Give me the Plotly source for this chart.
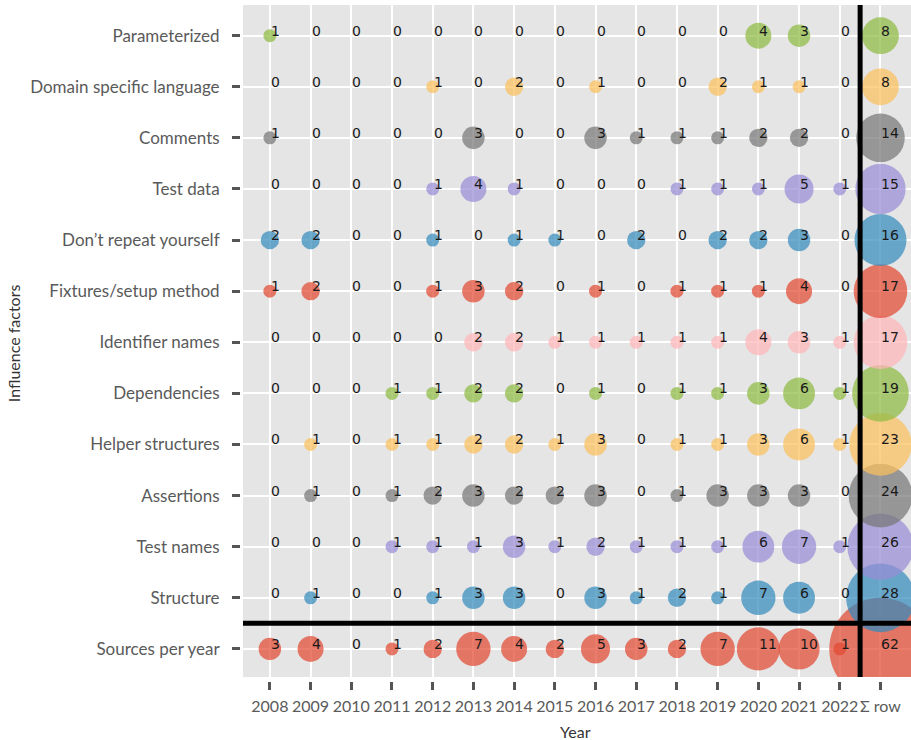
import numpy as np
import plotly.graph_objects as go

# Column and row categories
years = [str(y) for y in range(2008, 2023)]
columns = years + ["Σ row"]

factors = [
    "Sources per year",
    "Structure",
    "Test names",
    "Assertions",
    "Helper structures",
    "Dependencies",
    "Identifier names",
    "Fixtures/setup method",
    "Don’t repeat yourself",
    "Test data",
    "Comments",
    "Domain specific language",
    "Parameterized",
]

# Counts per year (2008..2022) for each factor
sources_per_year = [3, 4, 0, 1, 2, 7, 4, 2, 5, 3, 2, 7, 11, 10, 1]
structure = [0, 1, 0, 0, 1, 3, 3, 0, 3, 1, 2, 1, 7, 6, 0]
test_names = [0, 0, 0, 1, 1, 1, 3, 1, 2, 1, 1, 1, 6, 7, 1]
assertions = [0, 1, 0, 1, 2, 3, 2, 2, 3, 0, 1, 3, 3, 3, 0]
helper_structures = [0, 1, 0, 1, 1, 2, 2, 1, 3, 0, 1, 1, 3, 6, 1]
dependencies = [0, 0, 0, 1, 1, 2, 2, 0, 1, 0, 1, 1, 3, 6, 1]
identifier_names = [0, 0, 0, 0, 0, 2, 2, 1, 1, 1, 1, 1, 4, 3, 1]
fixtures = [1, 2, 0, 0, 1, 3, 2, 0, 1, 0, 1, 1, 1, 4, 0]
dont_repeat = [2, 2, 0, 0, 1, 0, 1, 1, 0, 2, 0, 2, 2, 3, 0]
test_data = [0, 0, 0, 0, 1, 4, 1, 0, 0, 0, 1, 1, 1, 5, 1]
comments = [1, 0, 0, 0, 0, 3, 0, 0, 3, 1, 1, 1, 2, 2, 0]
domain_specific = [0, 0, 0, 0, 1, 0, 2, 0, 1, 0, 0, 2, 1, 1, 0]
parameterized = [1, 0, 0, 0, 0, 0, 0, 0, 0, 0, 0, 0, 4, 3, 0]

rows = [
    sources_per_year, structure, test_names, assertions, helper_structures,
    dependencies, identifier_names, fixtures, dont_repeat, test_data,
    comments, domain_specific, parameterized,
]

palette = ["#E24A33", "#348ABD", "#988ED5", "#777777", "#FBC15E", "#8EBA42", "#FFB5B8"]

fig = go.Figure()

for i, (name, vals) in enumerate(zip(factors, rows)):
    full = list(vals) + [sum(vals)]
    color = palette[i % len(palette)]
    xs = [c for c, v in zip(columns, full) if v > 0]
    vs = [v for v in full if v > 0]
    fig.add_trace(go.Scatter(
        x=xs, y=[name] * len(xs), mode="markers",
        marker=dict(size=[13 * np.sqrt(v) for v in vs], sizemode="diameter",
                    color=color, opacity=0.72, line=dict(width=0)),
        hoverinfo="skip", showlegend=False,
    ))

# Count labels, placed by column index so numeric year strings stay categorical
for name, vals in zip(factors, rows):
    full = list(vals) + [sum(vals)]
    for j, v in enumerate(full):
        fig.add_annotation(
            x=j, y=name, text=str(v), showarrow=False, xanchor="left", yanchor="middle",
            xshift=-1, yshift=5, font=dict(family="DejaVu Sans", size=14, color="#1a1a1a"),
        )

# Separators between year columns / sum column and factor rows / totals row
fig.add_shape(type="line", xref="x", yref="paper", x0=14.5, x1=14.5, y0=4 / 676, y1=1,
              line=dict(color="black", width=5))
fig.add_shape(type="line", xref="paper", yref="y", x0=3 / 671, x1=1, y0=0.5, y1=0.5,
              line=dict(color="black", width=5))

fig.update_xaxes(
    type="category", categoryorder="array", categoryarray=columns,
    range=[-0.66, 15.75], domain=[3 / 671, 1], anchor="free", position=0,
    showgrid=True, gridcolor="white", gridwidth=2, zeroline=False,
    ticks="outside", ticklen=8, tickwidth=3, tickcolor="#555555", tickangle=0,
    tickfont=dict(family="Lato", size=16, color="#5a5a5a"), ticklabelstandoff=3,
    automargin=False,
)
fig.update_yaxes(
    type="category", categoryorder="array", categoryarray=factors,
    range=[-0.55, 12.6], domain=[4 / 676, 1], anchor="free", position=0,
    showgrid=True, gridcolor="white", gridwidth=2, zeroline=False,
    ticks="outside", ticklen=8, tickwidth=3, tickcolor="#555555",
    tickfont=dict(family="Lato", size=17, color="#5a5a5a"), ticklabelstandoff=9,
    automargin=False,
)

fig.add_annotation(text="Year", xref="paper", yref="paper", x=0.5, y=-0.074,
                   xanchor="center", yanchor="middle", showarrow=False,
                   font=dict(family="Lato", size=16, color="#333333"))
fig.add_annotation(text="Influence factors", xref="paper", yref="paper", x=-0.338, y=0.5,
                   xanchor="center", yanchor="middle", textangle=-90, showarrow=False,
                   font=dict(family="Lato", size=16, color="#333333"))

fig.update_layout(
    width=911, height=740,
    margin=dict(l=240, r=0, t=5, b=59),
    plot_bgcolor="#E5E5E5", paper_bgcolor="white",
    showlegend=False,
)

fig.write_html("out.html")
